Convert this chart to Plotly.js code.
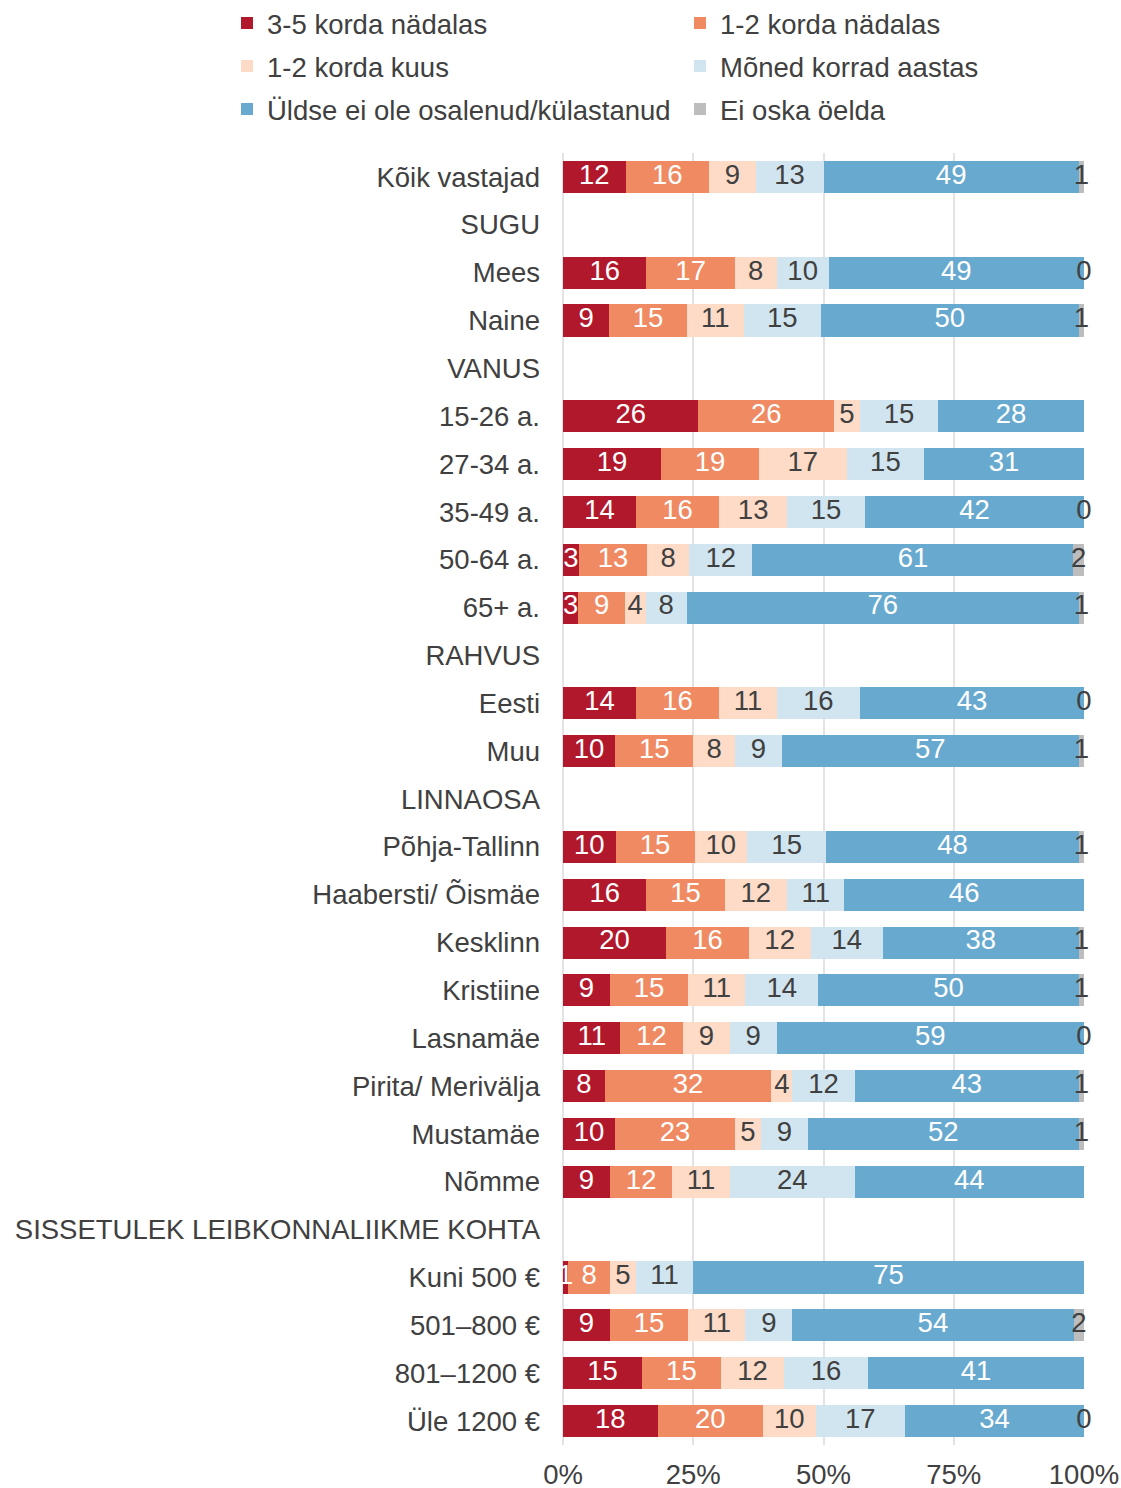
<!DOCTYPE html>
<html>
<head>
<meta charset="utf-8">
<script src="https://cdn.plot.ly/plotly-3.0.1.min.js"></script>
<style>
  html, body { margin: 0; padding: 0; background: #fff; }
  #chart { width: 1121px; height: 1488px; }
</style>
</head>
<body>
<div id="chart"></div>
<script>
// ---- Data ----
const categories = ['Kõik vastajad','SUGU','Mees','Naine','VANUS','15-26 a.','27-34 a.','35-49 a.','50-64 a.','65+ a.','RAHVUS','Eesti','Muu','LINNAOSA','Põhja-Tallinn','Haabersti/ Õismäe','Kesklinn','Kristiine','Lasnamäe','Pirita/ Merivälja','Mustamäe','Nõmme','SISSETULEK LEIBKONNALIIKME KOHTA','Kuni 500 €','501–800 €','801–1200 €','Üle 1200 €'];

const seriesNames = ['3-5 korda nädalas','1-2 korda nädalas','1-2 korda kuus','Mõned korrad aastas','Üldse ei ole osalenud/külastanud','Ei oska öelda'];

const s1 = [12,null,16,9,null,26,19,14,3,3,null,14,10,null,10,16,20,9,11,8,10,9,null,1,9,15,18];
const s2 = [16,null,17,15,null,26,19,16,13,9,null,16,15,null,15,15,16,15,12,32,23,12,null,8,15,15,20];
const s3 = [9,null,8,11,null,5,17,13,8,4,null,11,8,null,10,12,12,11,9,4,5,11,null,5,11,12,10];
const s4 = [13,null,10,15,null,15,15,15,12,8,null,16,9,null,15,11,14,14,9,12,9,24,null,11,9,16,17];
const s5 = [49,null,49,50,null,28,31,42,61,76,null,43,57,null,48,46,38,50,59,43,52,44,null,75,54,41,34];
const s6 = [1,null,0,1,null,null,null,0,2,1,null,0,1,null,1,null,1,1,0,1,1,null,null,null,2,null,0];

const tickVals = [0,25,50,75,100];
const tickLabels = ['0%','25%','50%','75%','100%'];

// ---- Styles ----
const colors = ['#b2182b','#ef8a62','#fddbc7','#d1e5f0','#67a9cf','#bdbdbd'];
const labelColors = ['#ffffff','#ffffff','#404040','#404040','#ffffff','#404040'];
const legendIds = ['legend','legend2','legend3','legend4','legend5','legend6'];
const FONT = 'Liberation Sans, Arial, sans-serif';
const FS = 27.5;

const allSeries = [s1,s2,s3,s4,s5,s6];
const traces = [];

allSeries.forEach((vals, k) => {
  traces.push({
    type: 'bar', orientation: 'h',
    name: seriesNames[k],
    y: categories, x: vals,
    marker: { color: colors[k], line: { width: 0 } },
    legend: legendIds[k],
    hoverinfo: 'name+x'
  });
});

// label positions: centre of each segment on the normalised (100%) scale
const totals = categories.map((c, i) => allSeries.reduce((a, s) => a + (s[i] || 0), 0));
allSeries.forEach((vals, k) => {
  const xs = [], ys = [], ts = [];
  vals.forEach((v, i) => {
    if (v === null || totals[i] === 0) return;
    let before = 0;
    for (let j = 0; j < k; j++) before += (allSeries[j][i] || 0);
    xs.push((before + v / 2) / totals[i] * 100);
    ys.push(categories[i]);
    ts.push(String(v));
  });
  traces.push({
    type: 'scatter', mode: 'text',
    x: xs, y: ys, text: ts,
    textposition: 'middle center',
    textfont: { family: FONT, size: FS, color: labelColors[k] },
    showlegend: false, hoverinfo: 'skip', cliponaxis: false
  });
});

const legendBase = {
  orientation: 'v', xref: 'container', yref: 'container',
  xanchor: 'left', yanchor: 'middle',
  font: { family: FONT, size: FS, color: '#404040' },
  bgcolor: 'rgba(0,0,0,0)', borderwidth: 0
};
const colX = [227, 680];
const rowY = [23, 66, 109];

const layout = {
  width: 1121, height: 1488,
  margin: { l: 563, r: 37, t: 153, b: 43, autoexpand: false },
  paper_bgcolor: '#ffffff', plot_bgcolor: '#ffffff',
  barmode: 'stack', barnorm: 'percent', bargap: 0.33,
  font: { family: FONT, size: FS, color: '#404040' },
  xaxis: {
    range: [0, 100], tickvals: tickVals, ticktext: tickLabels,
    showgrid: true, gridcolor: '#e3e3e3', gridwidth: 2,
    zeroline: true, zerolinecolor: '#e3e3e3', zerolinewidth: 2,
    showline: false, ticks: '', ticklabelstandoff: 10,
    tickfont: { family: FONT, size: FS, color: '#404040' },
    automargin: false, fixedrange: true
  },
  yaxis: {
    type: 'category', range: [categories.length - 0.5, -0.5],
    showgrid: false, zeroline: false, showline: false, ticks: '',
    ticklabelstandoff: 22,
    tickfont: { family: FONT, size: FS, color: '#404040' },
    automargin: false, fixedrange: true
  },
  showlegend: true
};
legendIds.forEach((id, k) => {
  layout[id] = Object.assign({}, legendBase, {
    x: colX[k % 2] / 1121,
    y: 1 - rowY[Math.floor(k / 2)] / 1488
  });
});

Plotly.newPlot('chart', traces, layout, { displayModeBar: false, staticPlot: true });
</script>
</body>
</html>
